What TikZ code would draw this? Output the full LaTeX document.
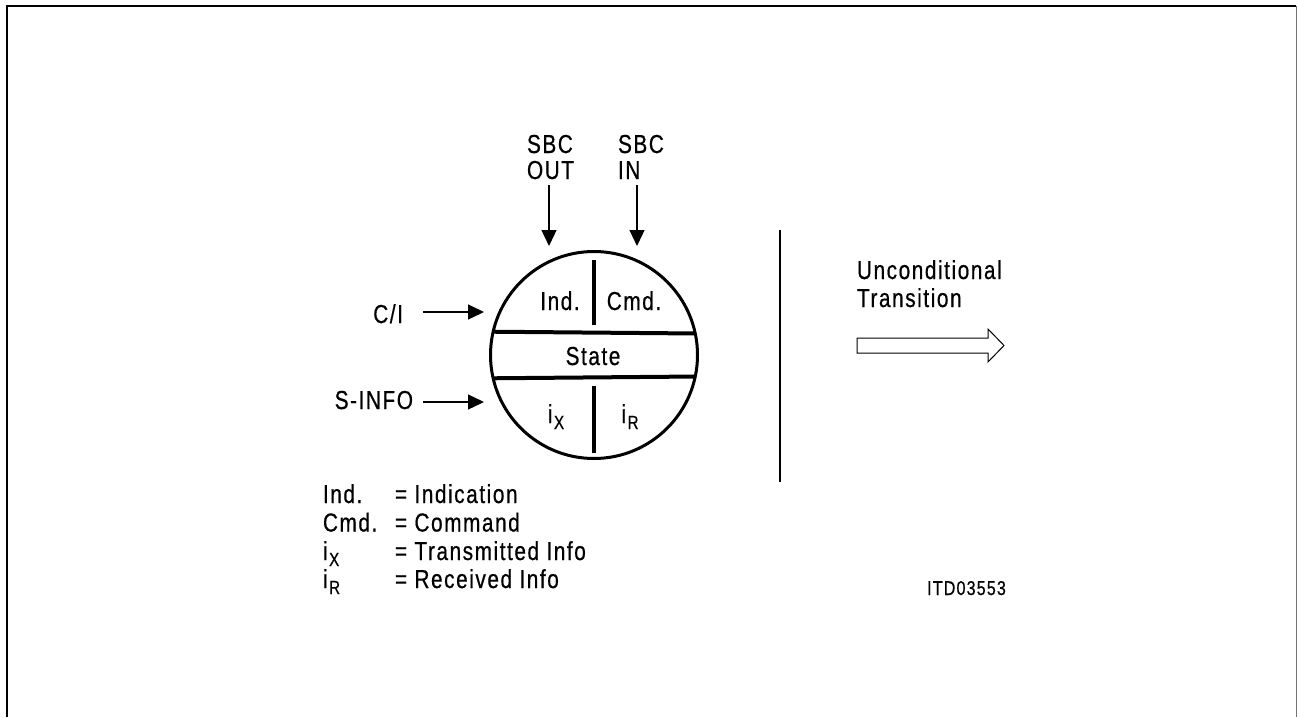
\documentclass[tikz,border=0pt]{standalone}
\usepackage{fontspec}
\setmainfont{Liberation Sans}[FakeStretch=0.8, LetterSpace=6, FakeBold=0.6]
\usetikzlibrary{arrows.meta}
\newcommand\fntA{\fontsize{26}{29}\selectfont}
\newcommand\fntB{\fontsize{20}{24}\selectfont}
\newcommand\subX[1]{\hspace{1.5pt}\raisebox{-6pt}{\fontsize{19}{19}\selectfont #1}}
\begin{document}
\begin{tikzpicture}[x=1pt,y=-1pt,
  lbl/.style={font=\fntA, inner sep=0, outer sep=0},
  arr/.style={line width=1.3pt, -{Triangle[length=16pt,width=15pt]}},
  divider/.style={line width=4pt},
  frameline/.style={line width=2pt}]
\useasboundingbox (0,0) rectangle (1297,717);
% frame
\draw[frameline] (6.5,717) -- (6.5,6) -- (1296,6);
\draw[line width=1.2pt, black!55] (1296.4,6) -- (1296.4,717);
% circle
\node[circle, draw, line width=3pt, minimum size=207pt, inner sep=0, outer sep=0] (c) at (594,355) {};
\draw[divider] (c.167.7) -- (c.12.3);
\draw[divider] (c.-167.2) -- (c.-12.8);
\draw[divider] (594,260) -- (594,325);
\draw[divider] (594,386) -- (594,453);
\node[lbl, anchor=base] (ind) at (560,310) {Ind.};
\node[lbl, anchor=base] (cmd) at (634,310) {Cmd.};
\node[lbl, anchor=base] (state) at (593,365) {State};
\node[lbl, anchor=base] (ix) at (556,423) {i\subX{X}};
\node[lbl, anchor=base] (ir) at (630,423) {i\subX{R}};
% top inputs
\node[lbl, anchor=base west] (sbcout) at (527,153) {SBC};
\node[lbl, anchor=base west] (out) at (527,179) {OUT};
\node[lbl, anchor=base west] (sbcin) at (618,153) {SBC};
\node[lbl, anchor=base west] (in) at (618,179) {IN};
\coordinate (o1) at (549,185); \coordinate (o2) at (549,246);
\coordinate (i1) at (637,185); \coordinate (i2) at (637,246);
\draw[arr] (o1) -- (o2);
\draw[arr] (i1) -- (i2);
% left inputs
\node[lbl, anchor=base east] (ci) at (403,323) {C/I};
\node[lbl, anchor=base east] (sinfo) at (413,409) {S-INFO};
\coordinate (c1) at (423,312); \coordinate (c2) at (484,312);
\coordinate (s1) at (423,402); \coordinate (s2) at (484,402);
\draw[arr] (c1) -- (c2);
\draw[arr] (s1) -- (s2);
% separator
\coordinate (v1) at (779.5,230); \coordinate (v2) at (779.5,482);
\draw[line width=2pt] (v1) -- (v2);
% unconditional transition
\node[lbl, anchor=base west] (unc) at (857,279) {Unconditional};
\node[lbl, anchor=base west] (tra) at (857,307) {Transition};
\draw[line width=1pt] (857,338) -- (988,338) -- (988,329) -- (1004,345.5) -- (988,362) -- (988,353) -- (857,353) -- cycle;
% legend
\node[lbl, anchor=base west] (l1) at (323,503) {\makebox[72pt][l]{Ind.}= Indication};
\node[lbl, anchor=base west] (l2) at (323,531.5) {\makebox[72pt][l]{Cmd.}= Command};
\node[lbl, anchor=base west] (l3) at (323,560) {\makebox[72pt][l]{i\subX{X}}= Transmitted Info};
\node[lbl, anchor=base west] (l4) at (323,588) {\makebox[72pt][l]{i\subX{R}}= Received Info};
\node[font=\fntB, inner sep=0, anchor=base west] (itd) at (927,595) {ITD03553};
\end{tikzpicture}
\end{document}
